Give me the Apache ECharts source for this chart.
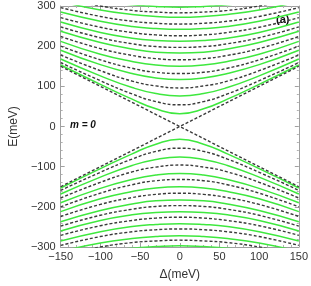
<!DOCTYPE html>
<html><head><meta charset="utf-8">
<script src="https://cdn.jsdelivr.net/npm/echarts@6/dist/echarts.min.js"></script>
<style>html,body{margin:0;padding:0;background:#fff}#c{width:311px;height:286px}</style>
</head><body><div id="c"></div>
<script>
// Δ (meV) sample points
var deltaGrid = [-150, -100, -60, -30, 0, 30, 60, 100, 150];
var deltaV = [-150, 0, 150];
// n = 0 dashed crossing lines (E at deltaV)
var dashZeroUp = [150, 0, 150];
var dashZeroDown = [-150, 0, -150];
// dashed levels, upper branch (E at deltaGrid)
var dashUp = [
  [159,114,81,62,54,62,81,114,159],
  [178,139,113,101,96,101,113,139,178],
  [200,166,145,135,132,135,145,166,200],
  [224,194,177,169,166,169,177,194,224],
  [248,221,206,199,197,199,206,221,248],
  [271,247,234,228,226,228,234,247,271],
  [296,274,262,257,255,257,262,274,296],
  [320,300,289,285,283,285,289,300,320]
];
var dashDown = [
  [-159,-114,-81,-62,-54,-62,-81,-114,-159],
  [-178,-139,-113,-101,-96,-101,-113,-139,-178],
  [-200,-166,-145,-135,-132,-135,-145,-166,-200],
  [-224,-194,-177,-169,-166,-169,-177,-194,-224],
  [-248,-221,-206,-199,-197,-199,-206,-221,-248],
  [-271,-247,-234,-228,-226,-228,-234,-247,-271],
  [-296,-274,-262,-257,-255,-257,-262,-274,-296],
  [-320,-300,-289,-285,-283,-285,-289,-300,-320]
];
// green levels
var greenUp = [
  [153,105,68,44,32,44,68,105,153],
  [168,126,97,82,76,82,97,126,168],
  [190,154,132,121,117,121,132,154,190],
  [212,180,162,153,150,153,162,180,212],
  [237,209,193,185,183,185,193,209,237],
  [260,234,220,214,212,214,220,234,260],
  [285,262,249,244,242,244,249,262,285],
  [311,290,279,274,272,274,279,290,311],
  [333,313,303,299,297,299,303,313,333]
];
var greenDown = [
  [-153,-105,-68,-44,-32,-44,-68,-105,-153],
  [-168,-126,-97,-82,-76,-82,-97,-126,-168],
  [-190,-154,-132,-121,-117,-121,-132,-154,-190],
  [-212,-180,-162,-153,-150,-153,-162,-180,-212],
  [-237,-209,-193,-185,-183,-185,-193,-209,-237],
  [-260,-234,-220,-214,-212,-214,-220,-234,-260],
  [-285,-262,-249,-244,-242,-244,-249,-262,-285],
  [-311,-290,-279,-274,-272,-274,-279,-290,-311],
  [-333,-313,-303,-299,-297,-299,-303,-313,-333]
];
var xTicks = [-150, -100, -50, 0, 50, 100, 150];
var yTicks = [-300, -200, -100, 0, 100, 200, 300];

function pairs(xs, ys){ return xs.map(function(x,i){return [x, ys[i]];}); }
var GREEN = '#3ee83e', DASH = '#3a3a3a';
var series = [];
greenUp.concat(greenDown).forEach(function(r){
  series.push({type:'line', data:pairs(deltaGrid, r), smooth:true, showSymbol:false, silent:true,
    lineStyle:{color:GREEN, width:1.5}, clip:true, z:2});
});
dashUp.concat(dashDown).forEach(function(r){
  series.push({type:'line', data:pairs(deltaGrid, r), smooth:true, showSymbol:false, silent:true,
    lineStyle:{color:DASH, width:1.4, type:[3,2]}, clip:true, z:3});
});
[dashZeroUp, dashZeroDown].forEach(function(r){
  series.push({type:'line', data:pairs(deltaV, r), smooth:false, showSymbol:false, silent:true,
    lineStyle:{color:DASH, width:1.4, type:[3,2]}, clip:true, z:3});
});

var fmt = function(v){ return String(v).replace('-', '\u2212'); };
var axisCommon = {
  axisLine:{show:true, onZero:false, lineStyle:{color:'#a0a0a0', width:1}},
  axisTick:{show:true, inside:true, length:4, lineStyle:{color:'#a0a0a0'}},
  minorTick:{show:true, splitNumber:5, length:2, lineStyle:{color:'#b0b0b0'}},
  splitLine:{show:false}
};
var chart = echarts.init(document.getElementById('c'), null, {renderer:'canvas'});
chart.setOption({
  animation:false,
  grid:{left:58, right:12, top:6, bottom:39},
  xAxis:[
    Object.assign({type:'value', min:xTicks[0], max:xTicks[xTicks.length-1], interval:50, position:'bottom',
      name:'\u0394(meV)', nameLocation:'middle', nameGap:22,
      nameTextStyle:{fontFamily:'Liberation Sans', fontSize:12, color:'#333'},
      axisLabel:{fontFamily:'Liberation Sans', fontSize:11, color:'#333', margin:4, formatter:fmt}}, axisCommon),
    Object.assign({type:'value', min:xTicks[0], max:xTicks[xTicks.length-1], interval:50, position:'top',
      axisLabel:{show:false}}, axisCommon)
  ],
  yAxis:[
    Object.assign({type:'value', min:yTicks[0], max:yTicks[yTicks.length-1], interval:100, position:'left',
      name:'E(meV)', nameLocation:'middle', nameGap:40,
      nameTextStyle:{fontFamily:'Liberation Sans', fontSize:12, color:'#333'},
      axisLabel:{fontFamily:'Liberation Sans', fontSize:11, color:'#333', margin:5, formatter:fmt}}, axisCommon),
    Object.assign({type:'value', min:yTicks[0], max:yTicks[yTicks.length-1], interval:100, position:'right',
      axisLabel:{show:false}}, axisCommon)
  ],
  series:series,
  graphic:[
    {type:'text', left:70, top:120, style:{text:'m = 0', font:'italic bold 10px Liberation Sans', fill:'#111'}},
    {type:'text', left:276, top:14, style:{text:'(a)', font:'bold 11px Liberation Sans', fill:'#111'}}
  ]
});
</script></body></html>
